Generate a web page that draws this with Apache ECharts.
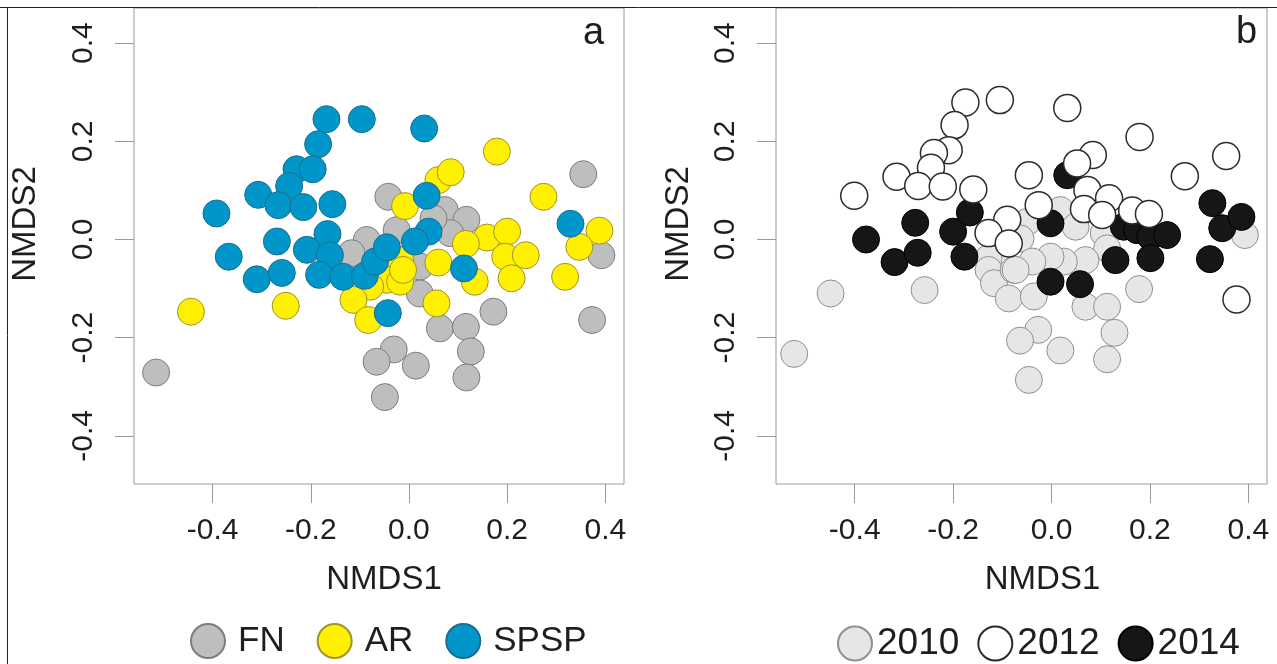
<!DOCTYPE html>
<html>
<head>
<meta charset="utf-8">
<script src="https://cdn.jsdelivr.net/npm/echarts@6/dist/echarts.min.js"></script>
<style>
html,body{margin:0;padding:0;background:#fff;}
#chart{width:1277px;height:664px;}
</style>
</head>
<body>
<div id="chart"></div>
<script>
// ---- data ----
var tickValues = [-0.4, -0.2, 0.0, 0.2, 0.4];
var xTitle = 'NMDS1';
var yTitle = 'NMDS2';
var groupNamesA = ['FN', 'AR', 'SPSP'];
var groupNamesB = ['2010', '2012', '2014'];

var fnPoints = [[-0.515,-0.271],[-0.042,0.087],[0.073,0.060],[0.117,0.040],[0.084,0.013],[0.050,0.043],
  [-0.025,0.019],[-0.086,-0.001],[-0.117,-0.028],[0.022,-0.055],[0.022,-0.110],[0.355,0.133],[0.392,-0.032],
  [0.172,-0.147],[0.063,-0.181],[0.116,-0.178],[0.126,-0.228],[0.117,-0.281],[-0.031,-0.224],[-0.066,-0.249],
  [0.014,-0.257],[-0.049,-0.321],[0.373,-0.164]];
var arPoints = [[-0.444,-0.147],[-0.251,-0.135],[0.179,0.179],[0.060,0.121],[0.085,0.137],[-0.008,0.068],
  [0.274,0.087],[0.159,0.004],[0.200,0.016],[0.116,-0.009],[0.388,0.018],[0.347,-0.015],[0.196,-0.035],
  [0.238,-0.032],[0.060,-0.047],[0.209,-0.079],[0.134,-0.086],[0.318,-0.076],[0.056,-0.130],[-0.018,-0.042],
  [-0.045,-0.082],[-0.018,-0.086],[-0.079,-0.096],[-0.113,-0.123],[-0.083,-0.164],[-0.012,-0.062]];
var spspPoints = [[-0.168,0.245],[-0.096,0.245],[-0.185,0.194],[-0.229,0.143],[-0.196,0.143],[-0.244,0.109],
  [-0.307,0.091],[-0.266,0.070],[-0.215,0.066],[-0.156,0.072],[-0.392,0.053],[-0.269,-0.004],[-0.166,0.011],
  [-0.208,-0.021],[-0.161,-0.032],[-0.367,-0.035],[-0.310,-0.081],[-0.259,-0.068],[-0.183,-0.072],[-0.134,-0.076],
  [-0.090,-0.074],[-0.069,-0.045],[0.031,0.226],[0.036,0.089],[0.040,0.016],[0.012,-0.004],[-0.045,-0.016],
  [0.112,-0.059],[0.329,0.032],[-0.043,-0.150]];

var y2010Points = [[-0.523,-0.233],[-0.449,-0.110],[-0.258,-0.103],[-0.128,-0.038],[-0.128,-0.062],[-0.117,-0.089],
  [-0.087,-0.120],[-0.077,-0.062],[0.393,0.009],[0.178,-0.101],[0.018,0.060],[0.049,0.026],[-0.049,0.036],
  [-0.063,0.002],[0.106,0.013],[0.113,-0.018],[0.069,-0.042],[0.025,-0.045],[-0.002,-0.035],[-0.039,-0.045],
  [-0.073,-0.062],[-0.036,-0.116],[0.069,-0.137],[0.113,-0.137],[0.128,-0.190],[0.113,-0.244],[-0.027,-0.184],
  [-0.064,-0.206],[0.018,-0.226],[-0.046,-0.286]];
var y2012Points = [[-0.175,0.279],[-0.105,0.284],[-0.197,0.233],[-0.209,0.182],[-0.239,0.176],[-0.245,0.146],
  [-0.315,0.128],[-0.271,0.109],[-0.221,0.108],[-0.159,0.102],[-0.401,0.089],[-0.090,0.040],[-0.128,0.013],
  [-0.087,-0.008],[0.179,0.209],[0.355,0.170],[0.271,0.129],[0.084,0.172],[0.052,0.155],[-0.046,0.131],
  [0.073,0.101],[0.117,0.084],[-0.026,0.070],[0.066,0.062],[0.103,0.050],[0.164,0.059],[0.198,0.052],
  [0.376,-0.122],[0.032,0.268]];
var y2014Points = [[-0.377,0.000],[-0.277,0.034],[-0.319,-0.046],[-0.272,-0.027],[-0.200,0.016],[-0.166,0.055],
  [-0.177,-0.035],[0.032,0.131],[-0.002,0.033],[-0.002,-0.086],[0.058,-0.091],[0.130,-0.042],[0.147,0.026],
  [0.174,0.019],[0.201,0.006],[0.235,0.009],[0.201,-0.038],[0.327,0.074],[0.347,0.023],[0.386,0.046],
  [0.322,-0.040]];

// ---- chart ----
var FONT = '"Liberation Sans", Arial, Helvetica, sans-serif';
var chart = echarts.init(document.getElementById('chart'), null, {renderer: 'canvas'});

function fmt(v) { return (Math.abs(v) < 1e-9 ? 0 : v).toFixed(1); }

function xAxisCfg(gi, namePad) {
  return {
    type: 'value', gridIndex: gi, min: -0.56, max: 0.438, position: 'bottom',
    axisLine: {show: false, onZero: false},
    splitLine: {show: false},
    axisTick: {show: true, length: 19, customValues: tickValues, lineStyle: {color: '#9a9a9a', width: 1}},
    axisLabel: {show: true, customValues: tickValues, formatter: fmt, margin: 32,
      fontSize: 30, fontFamily: FONT, color: '#1e1e1e'},
    name: xTitle, nameLocation: 'middle', nameGap: 79,
    nameTextStyle: {fontSize: 33, fontFamily: FONT, color: '#1e1e1e', padding: namePad}
  };
}
function yAxisCfg(gi, gap) {
  return {
    type: 'value', gridIndex: gi, min: -0.498, max: 0.4715, position: 'left',
    axisLine: {show: false, onZero: false},
    splitLine: {show: false},
    axisTick: {show: true, length: 19, customValues: tickValues, lineStyle: {color: '#9a9a9a', width: 1}},
    axisLabel: {show: true, customValues: tickValues, formatter: fmt, margin: 35, rotate: 90,
      fontSize: 30, fontFamily: FONT, color: '#1e1e1e'},
    name: yTitle, nameLocation: 'middle', nameGap: gap, nameRotate: 90,
    nameTextStyle: {fontSize: 33, fontFamily: FONT, color: '#1e1e1e', padding: [0, 0, 0, 44]}
  };
}
function sc(name, data, gi, fill, border, bw) {
  return {
    type: 'scatter', name: name, xAxisIndex: gi, yAxisIndex: gi, data: data,
    symbol: 'circle', symbolSize: 27,
    itemStyle: {color: fill, borderColor: border, borderWidth: bw, opacity: 1},
    emphasis: {disabled: true}
  };
}

var option = {
  animation: false,
  backgroundColor: '#ffffff',
  grid: [
    {left: 134, top: 8, width: 490, height: 476, show: true, borderColor: '#9a9a9a', borderWidth: 1, backgroundColor: 'transparent'},
    {left: 776, top: 8, width: 491, height: 476, show: true, borderColor: '#9a9a9a', borderWidth: 1, backgroundColor: 'transparent'}
  ],
  xAxis: [xAxisCfg(0, [0, 0, 0, 10]), xAxisCfg(1, [0, 0, 0, 42])],
  yAxis: [yAxisCfg(0, 92), yAxisCfg(1, 81)],
  legend: [
    {data: groupNamesA, left: 190, top: 623, orient: 'horizontal', icon: 'circle',
      itemWidth: 34, itemHeight: 34, itemGap: 32, padding: 0,
      textStyle: {fontSize: 35, fontFamily: FONT, color: '#1e1e1e', padding: [0, 0, 0, 8]}},
    {data: groupNamesB, left: 837, top: 625, orient: 'horizontal', icon: 'circle',
      itemWidth: 34, itemHeight: 34, itemGap: 18, padding: 0,
      textStyle: {fontSize: 37, fontFamily: FONT, color: '#1e1e1e'}}
  ],
  series: [
    sc(groupNamesA[0], fnPoints, 0, '#bebebe', '#7d7d7d', 1),
    sc(groupNamesA[1], arPoints, 0, '#fff000', '#9e9330', 1),
    sc(groupNamesA[2], spspPoints, 0, '#0096c9', '#1b6d8c', 1),
    sc(groupNamesB[0], y2010Points, 1, '#e6e6e6', '#8f8f8f', 1),
    sc(groupNamesB[2], y2014Points, 1, '#161616', '#000000', 1),
    sc(groupNamesB[1], y2012Points, 1, '#ffffff', '#2b2b2b', 1.5)
  ],
  graphic: [
    {type: 'text', left: 583, top: 15, style: {text: 'a', font: '38px ' + FONT, fill: '#1e1e1e'}},
    {type: 'text', left: 1236, top: 14, style: {text: 'b', font: '38px ' + FONT, fill: '#1e1e1e'}},
    {type: 'line', shape: {x1: 0, y1: 7.5, x2: 1277, y2: 7.5}, style: {stroke: '#222', lineWidth: 1}, z: 100},
    {type: 'line', shape: {x1: 7.5, y1: 7, x2: 7.5, y2: 664}, style: {stroke: '#222', lineWidth: 1}, z: 100}
  ]
};
chart.setOption(option);
</script>
</body>
</html>
